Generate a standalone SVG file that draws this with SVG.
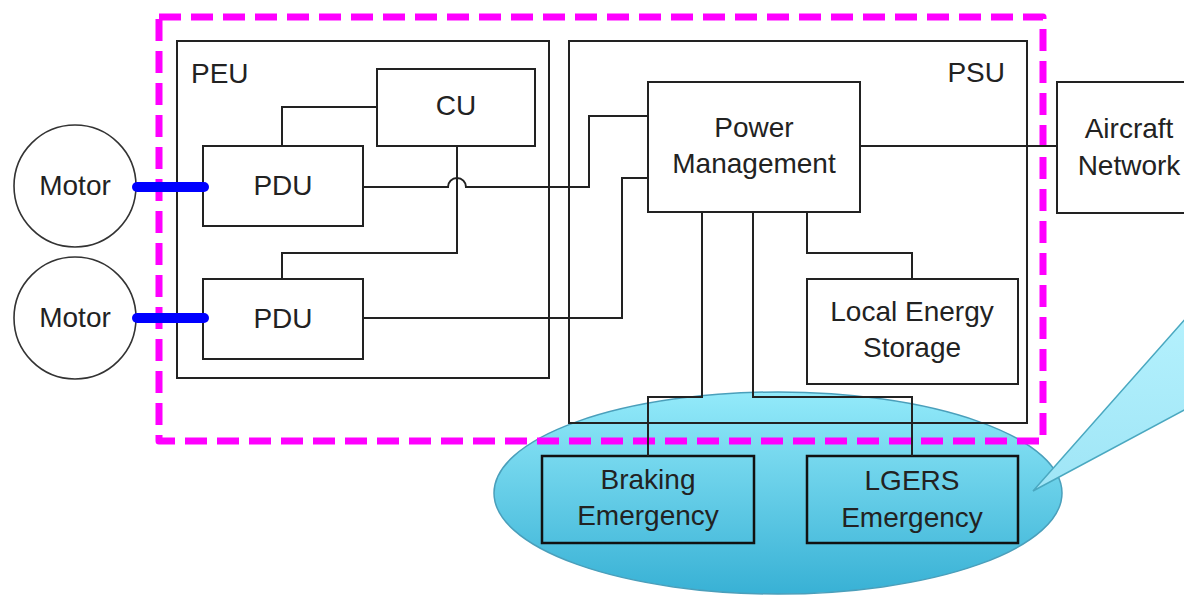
<svg xmlns="http://www.w3.org/2000/svg" width="1184" height="596" viewBox="0 0 1184 596">
<style>
  .box{fill:none;stroke:#222;stroke-width:2}
  .ebox{fill:none;stroke:#111;stroke-width:2.5}
  .wire{fill:none;stroke:#222;stroke-width:2}
  .bus{fill:none;stroke:#0000ff;stroke-width:10;stroke-linecap:round}
  .motor{fill:#fff;stroke:#333;stroke-width:1.6}
  .t{font-family:"Liberation Sans",Arial,sans-serif;font-size:28px;fill:#222;text-anchor:middle}
  .frame{fill:none;stroke:#ff00ff;stroke-width:7;stroke-dasharray:22 10;stroke-linejoin:round}
</style>
<defs>
  <linearGradient id="ellGrad" x1="0" y1="0" x2="0" y2="1">
    <stop offset="0" stop-color="#93eafa"/>
    <stop offset="1" stop-color="#38b1d5"/>
  </linearGradient>
  <linearGradient id="callGrad" x1="0" y1="0" x2="0" y2="1">
    <stop offset="0" stop-color="#b4f1fd"/>
    <stop offset="1" stop-color="#9fe5f6"/>
  </linearGradient>
</defs>
<rect width="1184" height="596" fill="#fff"/>

<g id="emergency-zone">
  <ellipse cx="778" cy="493" rx="284" ry="101" fill="url(#ellGrad)" stroke="#4a9fbb" stroke-width="1.5"/>
</g>
<g id="callout">
  <polygon points="1186,318 1033,491 1186,409" fill="url(#callGrad)" stroke="#4aa8c0" stroke-width="1.5" stroke-linejoin="miter"/>
</g>

<g id="boundary">
  <rect class="frame" x="159" y="17" width="884" height="424"/>
</g>

<g id="PEU">
  <rect class="box" x="177" y="41" width="372" height="337"/>
  <text class="t" x="191" y="83" style="text-anchor:start">PEU</text>
</g>
<g id="PSU">
  <rect class="box" x="569" y="41" width="458" height="382"/>
  <text class="t" x="1005" y="82" style="text-anchor:end">PSU</text>
</g>

<g id="motor1">
  <circle class="motor" cx="75" cy="186" r="61"/>
  <text class="t" x="75" y="195">Motor</text>
</g>
<g id="motor2">
  <circle class="motor" cx="75" cy="318" r="61"/>
  <text class="t" x="75" y="327">Motor</text>
</g>

<g id="CU">
  <rect class="box" x="377" y="69" width="158" height="77"/>
  <text class="t" x="456" y="115">CU</text>
</g>
<g id="PDU1">
  <rect class="box" x="203" y="146" width="160" height="80"/>
  <text class="t" x="283" y="195">PDU</text>
</g>
<g id="PDU2">
  <rect class="box" x="203" y="279" width="160" height="80"/>
  <text class="t" x="283" y="328">PDU</text>
</g>

<g id="power-management">
  <rect class="box" x="648" y="82" width="212" height="130"/>
  <text class="t" x="754" y="137">Power</text>
  <text class="t" x="754" y="173">Management</text>
</g>
<g id="aircraft-network">
  <rect class="box" x="1057" y="82" width="160" height="131"/>
  <text class="t" x="1129" y="138">Aircraft</text>
  <text class="t" x="1129" y="175">Network</text>
</g>
<g id="local-energy-storage">
  <rect class="box" x="807" y="279" width="211" height="105"/>
  <text class="t" x="912" y="321">Local Energy</text>
  <text class="t" x="912" y="357">Storage</text>
</g>
<g id="braking-emergency">
  <rect class="ebox" x="542" y="456" width="212" height="87"/>
  <text class="t" x="648" y="489">Braking</text>
  <text class="t" x="648" y="525">Emergency</text>
</g>
<g id="lgers-emergency">
  <rect class="ebox" x="807" y="456" width="211" height="87"/>
  <text class="t" x="912" y="490">LGERS</text>
  <text class="t" x="912" y="527">Emergency</text>
</g>

<g id="connectors">
  <line class="bus" x1="137" y1="187" x2="204" y2="187"/>
  <line class="bus" x1="137" y1="318" x2="204" y2="318"/>
  <path class="wire" d="M377,107 H282 V146"/>
  <path class="wire" d="M457,146 V253 H282 V279"/>
  <path class="wire" d="M363,187 H448 A9,9 0 0 1 466,187 H589 V116 H648"/>
  <path class="wire" d="M363,318 H622 V178 H648"/>
  <path class="wire" d="M860,146 H1057"/>
  <path class="wire" d="M702,212 V397 H648 V456"/>
  <path class="wire" d="M753,212 V397 H912 V456"/>
  <path class="wire" d="M807,212 V253 H912 V279"/>
</g>
</svg>
